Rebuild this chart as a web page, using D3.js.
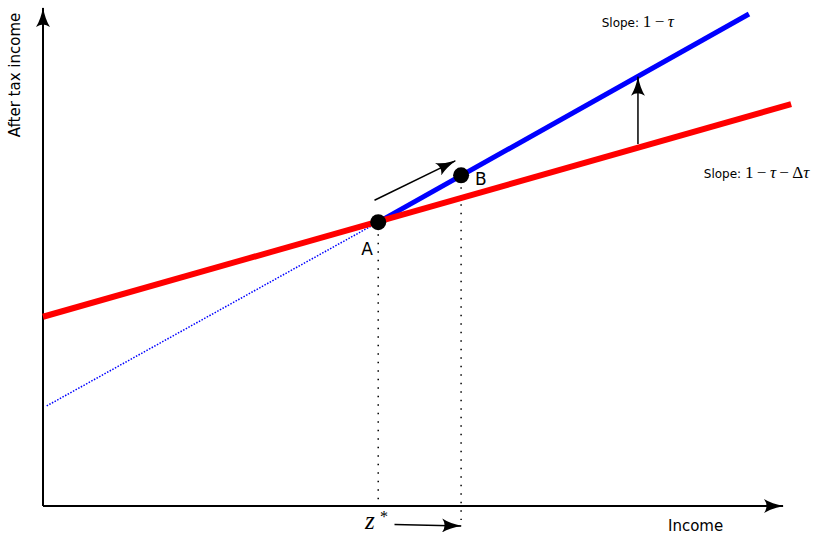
<!DOCTYPE html>
<html>
<head>
<meta charset="utf-8">
<script src="https://cdn.jsdelivr.net/npm/d3@7"></script>
<style>
  body { margin: 0; background: #fff; }
  text { font-family: "DejaVu Sans", sans-serif; }
  .math { font-family: "Liberation Serif", "DejaVu Serif", serif; }
</style>
</head>
<body>
<svg id="chart"></svg>
<script>
// budget lines in abstract (income, after tax income) units
var redLine = [[0, 3.80], [10.11, 8.07]];        // slope 1 - tau - dtau
var blueLine = [[4.53, 5.70], [9.54, 9.88]];     // slope 1 - tau
var blueDotted = [[0.05, 2.01], [4.53, 5.70]];
var points = [{ name: "A", x: 4.53, y: 5.70 }, { name: "B", x: 5.65, y: 6.64 }];
// math parts: [text, italic?]
var slopeLabels = [
  { x: 7.55, y: 9.62, math: [["1\u2009−\u2009", false], ["τ", true]] },
  { x: 8.93, y: 6.58, math: [["1\u2009−\u2009", false], ["τ", true], ["\u2009−\u2009Δ", false], ["τ", true]] }
];

var width = 813, height = 534;
var margin = { top: 8, right: 30, bottom: 28, left: 43 };

var svg = d3.select("#chart").attr("width", width).attr("height", height);

var x = d3.scaleLinear().domain([0, 10]).range([margin.left, 783]);
var y = d3.scaleLinear().domain([0, 10]).range([height - margin.bottom, margin.top]);

var defs = svg.append("defs");
defs.append("marker")
  .attr("id", "head")
  .attr("viewBox", "0 -7 20 14")
  .attr("refX", 19).attr("refY", 0)
  .attr("markerWidth", 20).attr("markerHeight", 14)
  .attr("markerUnits", "userSpaceOnUse")
  .attr("orient", "auto")
  .append("path")
  .attr("d", "M0,-7 Q8,-2 20,0 Q8,2 0,7 Q5,0 0,-7 Z")
  .attr("fill", "#000");

var line = d3.line()
  .x(function (d) { return x(d[0]); })
  .y(function (d) { return y(d[1]); });

// axes
svg.append("line")
  .attr("x1", x(0)).attr("y1", y(0)).attr("x2", x(0)).attr("y2", y(10))
  .attr("stroke", "#000").attr("stroke-width", 2).attr("marker-end", "url(#head)");
svg.append("line")
  .attr("x1", x(0)).attr("y1", y(0)).attr("x2", x(10)).attr("y2", y(0))
  .attr("stroke", "#000").attr("stroke-width", 2).attr("marker-end", "url(#head)");

// dotted drop lines
svg.append("line")
  .attr("x1", x(points[0].x)).attr("y1", y(points[0].y) + 12)
  .attr("x2", x(points[0].x)).attr("y2", y(0) - 4)
  .attr("stroke", "#000").attr("stroke-width", 1.5).attr("stroke-dasharray", "1.5,7");
svg.append("line")
  .attr("x1", x(points[1].x)).attr("y1", y(points[1].y) + 12)
  .attr("x2", x(points[1].x)).attr("y2", y(0) + 14)
  .attr("stroke", "#000").attr("stroke-width", 1.5).attr("stroke-dasharray", "1.5,7");

svg.append("path").datum(blueDotted).attr("d", line)
  .attr("fill", "none").attr("stroke", "#00f").attr("stroke-width", 1.5)
  .attr("stroke-dasharray", "1.5,1.5");
svg.append("path").datum(blueLine).attr("d", line)
  .attr("fill", "none").attr("stroke", "#00f").attr("stroke-width", 5);
svg.append("path").datum(redLine).attr("d", line)
  .attr("fill", "none").attr("stroke", "#f00").attr("stroke-width", 6);

svg.selectAll(".pt").data(points).enter().append("circle")
  .attr("cx", function (d) { return x(d.x); })
  .attr("cy", function (d) { return y(d.y); })
  .attr("r", 8).attr("fill", "#000");

svg.append("text").attr("x", x(points[0].x) - 17).attr("y", y(points[0].y) + 33)
  .attr("font-size", 17).text("A");
svg.append("text").attr("x", x(points[1].x) + 14).attr("y", y(points[1].y) + 10)
  .attr("font-size", 17).text("B");

// movement arrows
svg.append("line")
  .attr("x1", x(4.48)).attr("y1", y(6.14)).attr("x2", x(5.57)).attr("y2", y(6.93))
  .attr("stroke", "#000").attr("stroke-width", 1.5).attr("marker-end", "url(#head)");
svg.append("line")
  .attr("x1", x(8.04)).attr("y1", y(7.27)).attr("x2", x(8.04)).attr("y2", y(8.62))
  .attr("stroke", "#000").attr("stroke-width", 1.5).attr("marker-end", "url(#head)");
svg.append("line")
  .attr("x1", x(4.75)).attr("y1", y(-0.37)).attr("x2", x(5.65)).attr("y2", y(-0.4))
  .attr("stroke", "#000").attr("stroke-width", 1.5).attr("marker-end", "url(#head)");

// slope labels
slopeLabels.forEach(function (s) {
  var t = svg.append("text").attr("x", x(s.x)).attr("y", y(s.y));
  t.append("tspan").attr("font-size", 12).text("Slope:  ");
  s.math.forEach(function (m) {
    t.append("tspan").attr("class", "math").attr("font-size", 17)
      .attr("font-style", m[1] ? "italic" : "normal").text(m[0]);
  });
});

svg.append("text").attr("class", "math").attr("x", 365).attr("y", 529)
  .attr("font-size", 25).attr("font-style", "italic").text("z");
svg.append("text").attr("class", "math").attr("x", 380).attr("y", 522)
  .attr("font-size", 16).text("*");

svg.append("text").attr("x", 668).attr("y", 531).attr("font-size", 15).text("Income");
svg.append("text")
  .attr("transform", "translate(20,75) rotate(-90)")
  .attr("text-anchor", "middle").attr("font-size", 15).text("After tax income");
</script>
</body>
</html>
